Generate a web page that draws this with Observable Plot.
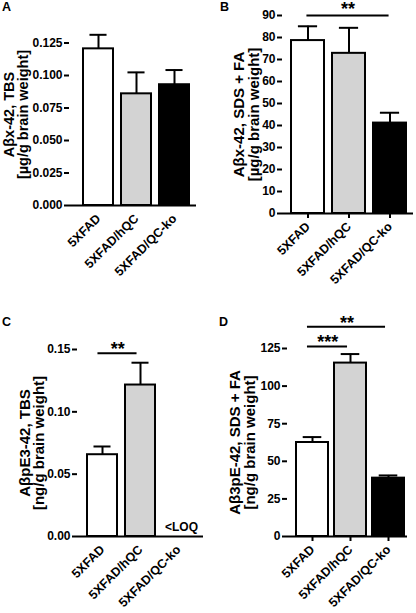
<!DOCTYPE html>
<html><head><meta charset="utf-8">
<script src="https://cdn.jsdelivr.net/npm/d3@7"></script>
<script src="https://cdn.jsdelivr.net/npm/@observablehq/plot@0.6"></script>
<style>
body{margin:0;background:#fff;}
#wrap{position:relative;width:416px;height:613px;font-family:"Liberation Sans",Arial,sans-serif;overflow:hidden;}
.panel{position:absolute;}
.letter{position:absolute;font-weight:bold;font-size:12.5px;line-height:1;color:#000;}
</style></head><body><div id="wrap"></div>
<script>
// ---- data ----
const groups = ["5XFAD", "5XFAD/hQC", "5XFAD/QC-ko"];
const fills = ["#ffffff", "#d3d3d3", "#000000"];

const aMeans = [0.1205, 0.0859, 0.0929];
const aSems  = [0.0108, 0.0165, 0.0113];
const aTicks = [0, 0.025, 0.05, 0.075, 0.1, 0.125];

const bMeans = [78.6, 72.8, 41.1];
const bSems  = [6.5, 11.6, 4.7];
const bTicks = [0, 10, 20, 30, 40, 50, 60, 70, 80, 90];
const bSig = [{from: "5XFAD", to: "5XFAD/QC-ko", y: 90, label: "**"}];

const cMeans = [0.0656, 0.1215, null];
const cSems  = [0.0066, 0.0179, null];
const cTicks = [0, 0.05, 0.1, 0.15];
const cSig = [{from: "5XFAD", to: "5XFAD/hQC", y: 0.147, label: "**"}];
const cLoq = [{group: "5XFAD/QC-ko", label: "<LOQ"}];

const dMeans = [62.5, 115.3, 38.8];
const dSems  = [3.6, 6.0, 1.8];
const dTicks = [0, 25, 50, 75, 100, 125];
const dSig = [
  {from: "5XFAD", to: "5XFAD/hQC", y: 126.3, label: "***"},
  {from: "5XFAD", to: "5XFAD/QC-ko", y: 139.4, label: "**"}
];

function makePanel(p) {
  const n = groups.length;
  const step = (p.width - p.ml - p.mr) / (n - p.pi + 2 * p.po);
  const bw = step * (1 - p.pi);
  const rows = groups.map((g, i) => ({group: g, mean: p.means[i], sem: p.sems[i]})).filter(d => d.mean != null);
  const marks = [
    Plot.barY(rows, {x: "group", y: "mean", fill: "group", stroke: "black", strokeWidth: 2}),
    Plot.ruleX(rows, {x: "group", y1: "mean", y2: d => d.mean + d.sem, strokeWidth: 2}),
    Plot.tickY(rows, {x: "group", y: d => d.mean + d.sem, strokeWidth: 2, insetLeft: bw * 0.21, insetRight: bw * 0.21}),
    Plot.ruleY([0], {strokeWidth: 2}),
    Plot.axisY({ticks: p.ticks, tickFormat: p.fmt, tickSize: 5, tickPadding: 2, line: true, strokeWidth: 2, fontSize: 12, fontWeight: "bold", label: null}),
    Plot.axisX({tickRotate: -45, tickSize: p.xts, tickPadding: p.xtp, strokeWidth: 2, fontSize: 12.5, fontWeight: "bold", label: null}),
    Plot.text([p.t1], {text: d => d, frameAnchor: "left", textAnchor: "middle", rotate: -90, dx: p.t1dx, fontSize: p.tfs, fontWeight: "bold"}),
    Plot.text([p.t2], {text: d => d, frameAnchor: "left", textAnchor: "middle", rotate: -90, dx: p.t2dx, fontSize: p.tfs, fontWeight: "bold"})
  ];
  for (const s of (p.sig || [])) {
    const span = groups.indexOf(s.to) - groups.indexOf(s.from);
    marks.push(Plot.ruleY([s], {x1: "from", x2: "to", y: "y", strokeWidth: 2,
      insetLeft: bw / 2 + p.offL, insetRight: bw / 2 - p.offR}));
    marks.push(Plot.text([s], {x: "from", y: "y", text: "label", dx: span * step / 2 + (p.offL + p.offR) / 2,
      dy: p.sdy, fontSize: 18, fontWeight: "bold"}));
  }
  if (p.loq) {
    marks.push(Plot.text(p.loq, {x: "group", y: () => 0, text: "label", dy: -9, dx: 3, fontSize: 12, fontWeight: "bold"}));
  }
  return Plot.plot({
    width: p.width, height: p.height,
    marginLeft: p.ml, marginRight: p.mr, marginTop: p.mt, marginBottom: p.mb,
    style: {fontFamily: "Liberation Sans, Arial, sans-serif", color: "black", background: "transparent", overflow: "visible"},
    x: {domain: groups, paddingInner: p.pi, paddingOuter: p.po, align: p.align},
    y: {domain: p.domain},
    color: {domain: groups, range: fills},
    marks
  });
}

const wrap = document.getElementById("wrap");
function place(el, left, top) {
  el.classList.add("panel");
  el.style.left = left + "px";
  el.style.top = top + "px";
  wrap.appendChild(el);
}

place(makePanel({
  means: aMeans, sems: aSems, ticks: aTicks, fmt: d3.format(".3f"), domain: [0, 0.14],
  width: 208, height: 300, ml: 69, mr: 12, mt: 23, mb: 95,
  pi: 0.2, po: 0.25, align: 0.66, xts: 0, xtp: 11,
  t1: "Aβx-42, TBS", t2: "[µg/g brain weight]", t1dx: -60, t2dx: -46, tfs: 14.5
}), 0, 0);

place(makePanel({
  means: bMeans, sems: bSems, ticks: bTicks, fmt: d3.format("d"), domain: [0, 90],
  width: 208, height: 300, ml: 74, mr: 3, mt: 15, mb: 87,
  pi: 0.2, po: 0.195, align: 0.58, xts: 5, xtp: 6,
  t1: "Aβx-42, SDS + FA", t2: "[µg/g brain weight]", t1dx: -43, t2dx: -28.5, tfs: 15,
  sig: bSig, offL: -1, offR: -1, sdy: -6
}), 208, 0);

place(makePanel({
  means: cMeans, sems: cSems, ticks: cTicks, fmt: d3.format(".2f"), domain: [0, 0.15],
  width: 208, height: 313, ml: 77, mr: 5, mt: 49, mb: 77,
  pi: 0.2, po: 0.23, align: 0.5, xts: 0, xtp: 11,
  t1: "AβpE3-42, TBS", t2: "[ng/g brain weight]", t1dx: -52, t2dx: -38, tfs: 15,
  sig: cSig, offL: -5, offR: -3, sdy: -4, loq: cLoq
}), 0, 300);

place(makePanel({
  means: dMeans, sems: dSems, ticks: dTicks, fmt: d3.format("d"), domain: [0, 125],
  width: 208, height: 313, ml: 79, mr: 9, mt: 48, mb: 77,
  pi: 0.17, po: 0.145, align: 0.75, xts: 5, xtp: 6,
  t1: "Aβ3pE-42, SDS + FA", t2: "[ng/g brain weight]", t1dx: -52, t2dx: -37, tfs: 15,
  sig: dSig, offL: -5, offR: -3, sdy: -4
}), 208, 300);

const letters = [["A", 2, 1], ["B", 220, 1], ["C", 2, 316], ["D", 219, 316]];
for (const [t, l, tp] of letters) {
  const d = document.createElement("div");
  d.className = "letter";
  d.textContent = t;
  d.style.left = l + "px";
  d.style.top = tp + "px";
  wrap.appendChild(d);
}
</script>
</body></html>
